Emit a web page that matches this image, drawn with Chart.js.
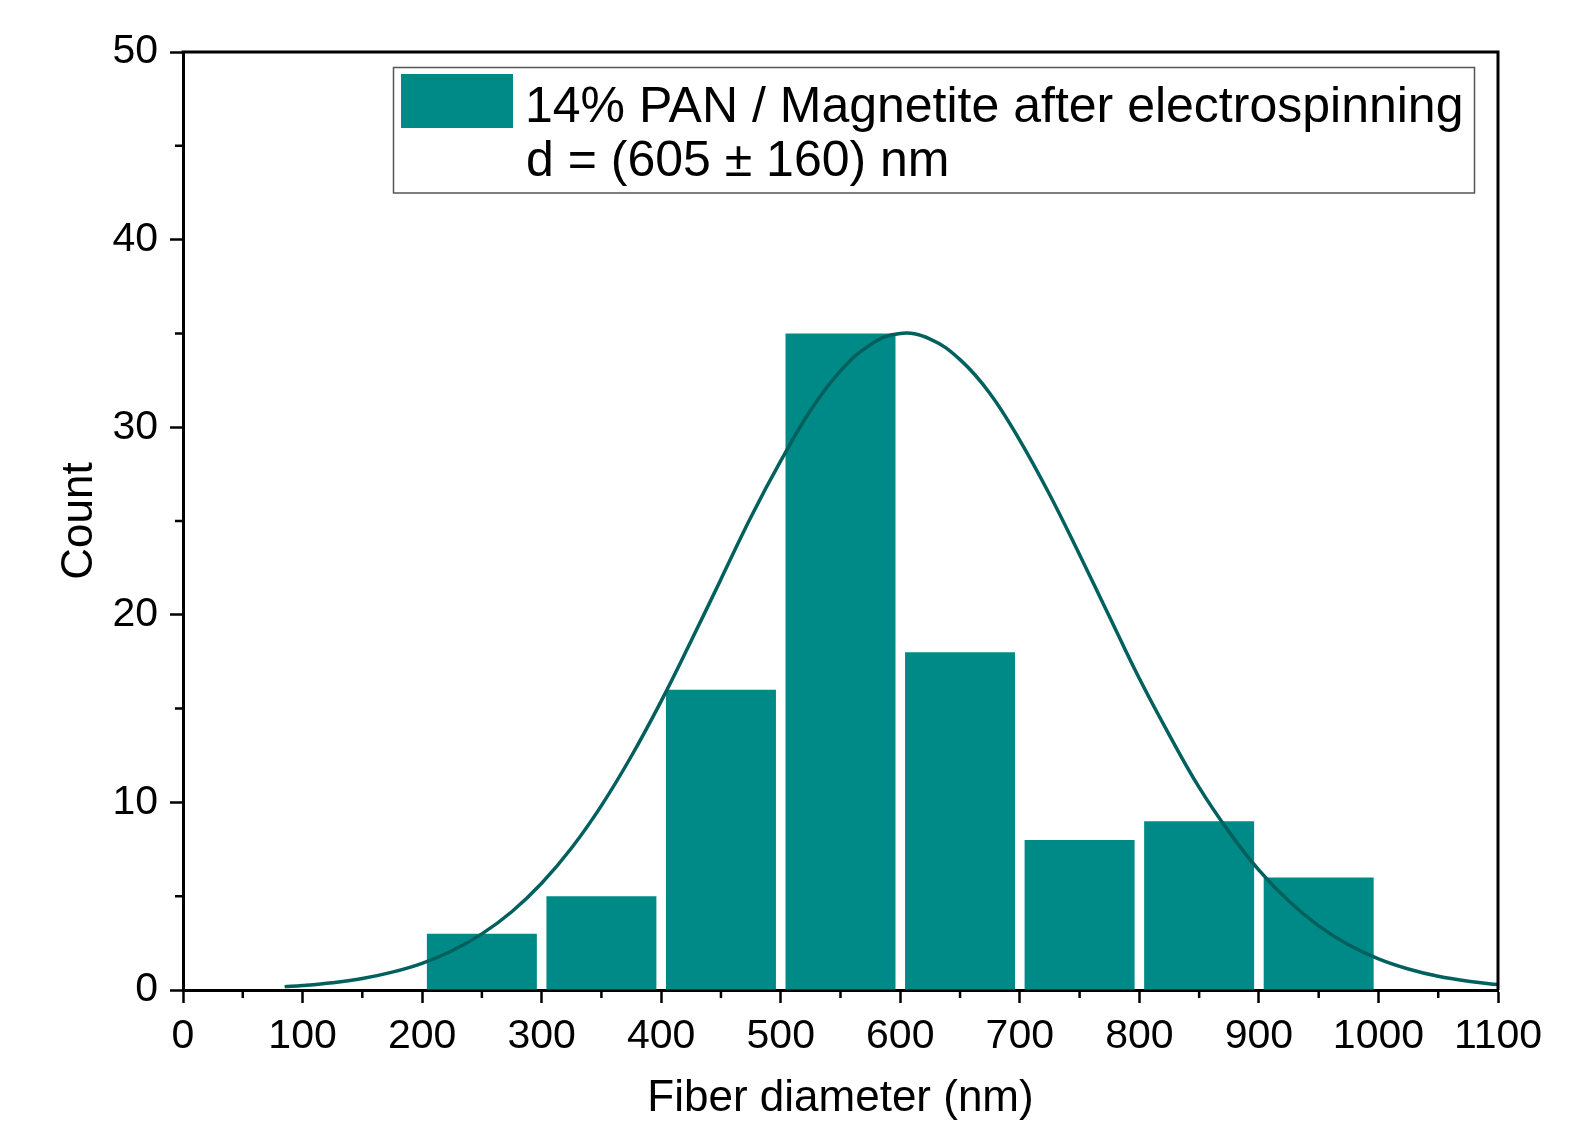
<!DOCTYPE html>
<html><head><meta charset="utf-8">
<script src="https://cdn.jsdelivr.net/npm/chart.js@4.4.1/dist/chart.umd.min.js"></script>
<style>html,body{margin:0;padding:0;background:#fff;overflow:hidden}canvas{display:block}</style>
</head><body>
<canvas id="c" width="1575" height="1124"></canvas>
<script>
// ---- data ----
const binCenters = [250, 350, 450, 550, 650, 750, 850, 950];
const counts = [3, 5, 16, 35, 18, 8, 9, 6];
const curveX = [85,100,125,150,175,200,225,250,275,300,325,350,375,400,425,450,475,500,525,550,575,600,625,650,675,700,725,750,775,800,825,850,875,900,925,950,975,1000,1025,1050,1075,1100];
const curveY = [0.18,0.24,0.39,0.61,0.95,1.42,2.09,2.99,4.17,5.69,7.57,9.83,12.46,15.4,18.6,21.9,25.2,28.2,30.9,33.0,34.4,35.0,34.7,33.6,31.8,29.3,26.4,23.2,19.9,16.6,13.6,10.8,8.43,6.39,4.74,3.42,2.41,1.66,1.12,0.73,0.47,0.29];
const xMinorTicks = [50,150,250,350,450,550,650,750,850,950,1050];
const yMinorTicks = [5,15,25,35,45];
const legendLabel = '14% PAN / Magnetite after electrospinning';
const legendNote = 'd = (605 \u00B1 160) nm';
const xTitle = 'Fiber diameter (nm)';
const yTitle = 'Count';

const BAR_COLOR = '#008a87';
const LINE_COLOR = '#00605e';
const FONT = "'Liberation Sans', Arial, sans-serif";

const framePlugin = {
  id: 'frame',
  afterDraw(chart) {
    const {ctx, chartArea: a, scales: {x, y}} = chart;
    ctx.save();
    ctx.strokeStyle = '#000';
    ctx.lineWidth = 3;
    ctx.beginPath();
    ctx.moveTo(a.left - 1.5, a.top);
    ctx.lineTo(a.right, a.top);
    ctx.lineTo(a.right, a.bottom);
    ctx.stroke();
    // minor ticks
    ctx.lineWidth = 2.5;
    ctx.beginPath();
    xMinorTicks.forEach(v => {
      const px = x.getPixelForValue(v);
      ctx.moveTo(px, a.bottom);
      ctx.lineTo(px, a.bottom + 8);
    });
    yMinorTicks.forEach(v => {
      const py = y.getPixelForValue(v);
      ctx.moveTo(a.left, py);
      ctx.lineTo(a.left - 8, py);
    });
    ctx.stroke();
    // legend
    const lx = 393.5, ly = 67.5, lw = 1081, lh = 125.5;
    ctx.fillStyle = '#fff';
    ctx.fillRect(lx, ly, lw, lh);
    ctx.strokeStyle = '#555';
    ctx.lineWidth = 1.5;
    ctx.strokeRect(lx, ly, lw, lh);
    ctx.fillStyle = BAR_COLOR;
    ctx.fillRect(401, 74, 112, 54);
    ctx.fillStyle = '#000';
    ctx.font = '50px ' + FONT;
    ctx.textBaseline = 'alphabetic';
    ctx.textAlign = 'left';
    ctx.fillText(legendLabel, 525, 122);
    ctx.fillText(legendNote, 526, 176);
    ctx.restore();
  }
};

new Chart(document.getElementById('c'), {
  type: 'bar',
  data: {
    datasets: [
      {
        type: 'line',
        data: curveX.map((v, i) => ({x: v, y: curveY[i]})),
        borderColor: LINE_COLOR,
        borderWidth: 3.5,
        pointRadius: 0,
        tension: 0.4,
        fill: false,
        order: 0
      },
      {
        type: 'bar',
        data: binCenters.map((v, i) => ({x: v, y: counts[i]})),
        backgroundColor: BAR_COLOR,
        borderWidth: 0,
        barPercentage: 0.92,
        categoryPercentage: 1.0,
        order: 1
      }
    ]
  },
  options: {
    responsive: false,
    animation: false,
    devicePixelRatio: 1,
    layout: {padding: {top: 52, right: 77, left: 0, bottom: 0}},
    plugins: {legend: {display: false}, tooltip: {enabled: false}},
    scales: {
      x: {
        type: 'linear',
        min: 0, max: 1100,
        offset: false,
        afterFit: s => { s.height = 134; },
        ticks: {stepSize: 100, autoSkip: false, maxRotation: 0, color: '#000', padding: 9,
                font: {family: FONT, size: 41}, callback: v => String(v)},
        grid: {display: true, offset: false, drawOnChartArea: false, drawTicks: true,
               tickLength: 13, tickWidth: 2.5, tickColor: '#000'},
        border: {display: true, color: '#000', width: 3},
        title: {display: true, text: xTitle, color: '#000',
                font: {family: FONT, size: 44, lineHeight: 1}, padding: {top: 0, bottom: 3}}
      },
      y: {
        min: 0, max: 50,
        afterFit: s => { s.width = 183; },
        ticks: {stepSize: 10, color: '#000', padding: 12,
                font: {family: FONT, size: 41}, callback: v => String(v)},
        grid: {display: true, drawOnChartArea: false, drawTicks: true,
               tickLength: 13, tickWidth: 2.5, tickColor: '#000'},
        border: {display: true, color: '#000', width: 3},
        title: {display: true, text: yTitle, color: '#000',
                font: {family: FONT, size: 44, lineHeight: 1}, padding: {top: 58, bottom: 0}}
      }
    }
  },
  plugins: [framePlugin]
});
</script>
</body></html>
